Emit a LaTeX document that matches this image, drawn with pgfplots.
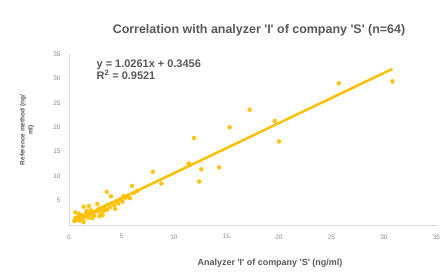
\documentclass[border=0pt]{standalone}
\usepackage{pgfplots}
\pgfplotsset{compat=1.18}
\usepackage{fontspec}
\setmainfont{Liberation Sans}
\definecolor{gold}{HTML}{FFC000}
\definecolor{txt}{HTML}{595959}
\definecolor{tick}{HTML}{8C8C8C}
\definecolor{axl}{HTML}{D9D9D9}
\newcommand{\q}{\textquotesingle}
\begin{document}
\begin{tikzpicture}
\path[use as bounding box, fill=white] (0,0) rectangle (442bp,273bp);
\begin{axis}[
  at={(69bp,48bp)}, anchor=south west,
  scale only axis, width=367.5bp, height=171bp,
  xmin=0, xmax=35, ymin=0, ymax=35,
  xtick={0,5,...,35}, ytick={5,10,...,35},
  axis x line=bottom, axis y line=left,
  axis line style={draw=axl, line width=0.6pt, -},
  major tick length=0pt,
  tick label style={font=\fontsize{6.5}{7}\selectfont, text=tick},
  xticklabel style={yshift=-6bp},
  yticklabel style={xshift=-5bp},
  /pgf/number format/assume math mode=true,
  clip=false,
]
\addplot[only marks, mark=*, mark size=2pt, draw=gold, fill=gold, opacity=0.9] coordinates {
(30.8,29.4) (25.7,29.0) (19.6,21.3) (20.0,17.1) (17.2,23.6) (15.3,20.0)
(11.9,17.8) (11.5,12.3) (11.4,12.6) (12.6,11.4) (14.3,11.8) (12.4,8.9)
(8.0,10.9) (8.8,8.5) (6.0,8.0) (5.2,5.9) (4.0,5.9) (3.6,6.8) (1.4,3.75) (0.6,1.4)
(0.5,0.8) (0.7,1.0) (0.8,1.5) (1.0,0.9) (1.1,1.6) (1.2,2.0) (0.9,2.3) (1.3,1.2)
(1.5,1.8) (1.6,2.4) (1.8,1.5) (2.0,2.2) (2.1,3.0) (2.3,2.5) (2.4,1.9) (2.6,2.8)
(2.8,3.3) (3.0,2.6) (3.1,3.5) (3.3,2.9) (3.4,3.8) (3.6,3.1) (3.7,4.2) (3.9,3.6)
(4.1,4.5) (4.3,4.0) (4.5,4.9) (4.7,4.4) (4.9,5.3) (5.1,4.8) (5.4,5.6) (5.6,6.0)
(5.8,5.5) (6.2,6.6) (6.5,7.0) (1.9,3.9) (2.7,4.3) (0.6,2.6) (1.4,0.6) (2.2,1.4)
(3.2,2.0) (4.4,3.3) (1.7,2.9) (2.9,1.8)
};
\addplot[gold, line width=2.5pt, no marks] coordinates {(0.5,0.859) (30.8,31.95)};
\node[anchor=north west, font=\bfseries\fontsize{11}{12.5}\selectfont, text=txt, align=left] at (axis cs:2.3,34.6) {y = 1.0261x + 0.3456\\R\textsuperscript{2} = 0.9521};
\end{axis}
\node[font=\bfseries\fontsize{12.5}{14}\selectfont, text=txt] at (259bp,243bp) {Correlation with analyzer \q I\q{} of company \q S\q{} (n=64)};
\node[font=\bfseries\fontsize{9}{10}\selectfont, text=txt] at (270bp,10bp) {Analyzer \q I\q{} of company \q S\q{} (ng/ml)};
\node[rotate=90, font=\bfseries\fontsize{6.5}{8}\selectfont, text=txt, align=center] at (27bp,143bp) {Reference method (ng/\\ml)};
\end{tikzpicture}
\end{document}
